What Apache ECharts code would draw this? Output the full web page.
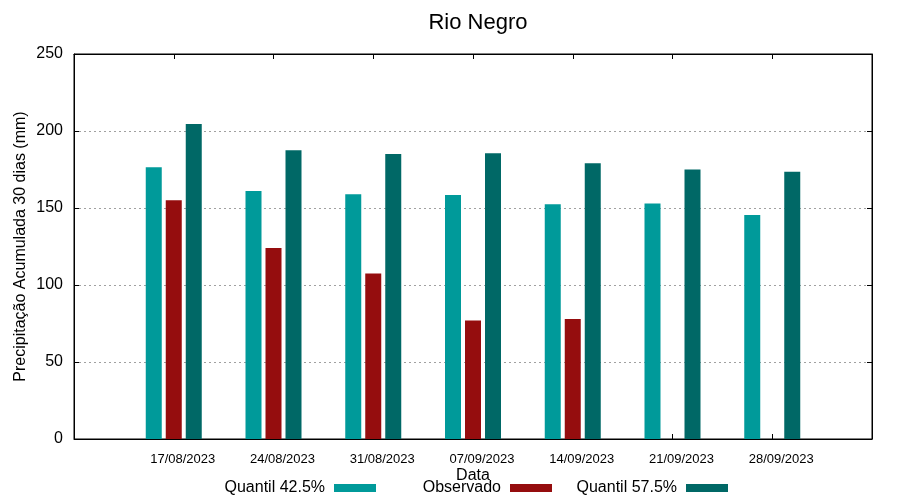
<!DOCTYPE html>
<html><head><meta charset="utf-8">
<script src="https://cdn.jsdelivr.net/npm/echarts@6/dist/echarts.min.js"></script>
<style>html,body{margin:0;padding:0;background:#fff}#c{width:900px;height:500px}</style>
</head><body><div id="c"></div>
<script>
const dates = ['17/08/2023','24/08/2023','31/08/2023','07/09/2023','14/09/2023','21/09/2023','28/09/2023'];
const q425 = [176.5, 161, 159, 158.5, 152.5, 153, 145.5];
const observado = [155, 124, 107.5, 77, 78, null, null];
const q575 = [204.5, 187.5, 185, 185.5, 179, 175, 173.5];
const yTicks = [0, 50, 100, 150, 200, 250];

const F = 'Liberation Sans, Arial, sans-serif';
const toData = arr => arr.map((v, i) => v == null ? null : [i, v]).filter(d => d);
const chart = echarts.init(document.getElementById('c'));
const legendBase = {orient:'horizontal', align:'right', icon:'rect', itemWidth:42, itemHeight:8,
  padding:0, top:480, textStyle:{fontFamily:F, fontSize:16, color:'#000', padding:[0,4,0,0]}, selectedMode:false};
const axLine = {show:true, onZero:false, lineStyle:{color:'#000'}};
const axTick = {show:true, inside:true, length:5, lineStyle:{color:'#000'}};
chart.setOption({
  animation:false,
  title:{text:'Rio Negro', left:473, top:7, textAlign:'center',
    textStyle:{fontFamily:F, fontSize:22, fontWeight:'normal', color:'#000'}},
  grid:{left:74, right:28, top:54, bottom:61, show:true, borderColor:'#000', borderWidth:1},
  legend:[
    Object.assign({}, legendBase, {data:['Quantil 42.5%'], right:900-376}),
    Object.assign({}, legendBase, {data:['Observado'], right:900-552}),
    Object.assign({}, legendBase, {data:['Quantil 57.5%'], right:900-728})
  ],
  xAxis:[{
    type:'value', min:-1, max:7, interval:1,
    name:'Data', nameLocation:'middle', nameGap:29, nameMoveOverlap:false,
    nameTextStyle:{fontFamily:F, fontSize:16, color:'#000'},
    axisLine:axLine, axisTick:axTick,
    splitLine:{show:false},
    axisLabel:{fontFamily:F, fontSize:13, color:'#000', margin:14, padding:[0,0,0,18],
      formatter: v => dates[v] !== undefined ? dates[v] : ''}
  },{
    type:'value', min:-1, max:7, interval:1, position:'top',
    axisLine:axLine, axisTick:axTick,
    axisLabel:{show:false}, splitLine:{show:false}
  }],
  yAxis:[{
    type:'value', min:yTicks[0], max:yTicks[yTicks.length-1], interval:50,
    name:'Precipitação Acumulada 30 dias (mm)', nameLocation:'middle', nameGap:45, nameMoveOverlap:false,
    nameTextStyle:{fontFamily:F, fontSize:16, color:'#000'},
    axisLine:axLine, axisTick:axTick,
    axisLabel:{fontFamily:F, fontSize:16, color:'#000', margin:11},
    splitLine:{show:true, lineStyle:{color:'#a0a0a0', type:[2,3], width:1}}
  },{
    type:'value', min:0, max:250, interval:50, position:'right',
    axisLine:axLine, axisTick:axTick,
    axisLabel:{show:false}, splitLine:{show:false}
  }],
  series:[
    {name:'Quantil 42.5%', type:'bar', barWidth:16, barGap:'25%', data:toData(q425), itemStyle:{color:'#009a9a'}},
    {name:'Observado', type:'bar', barWidth:16, barGap:'25%', data:toData(observado), itemStyle:{color:'#950d0e'}},
    {name:'Quantil 57.5%', type:'bar', barWidth:16, barGap:'25%', data:toData(q575), itemStyle:{color:'#006866'}}
  ]
});
</script></body></html>
